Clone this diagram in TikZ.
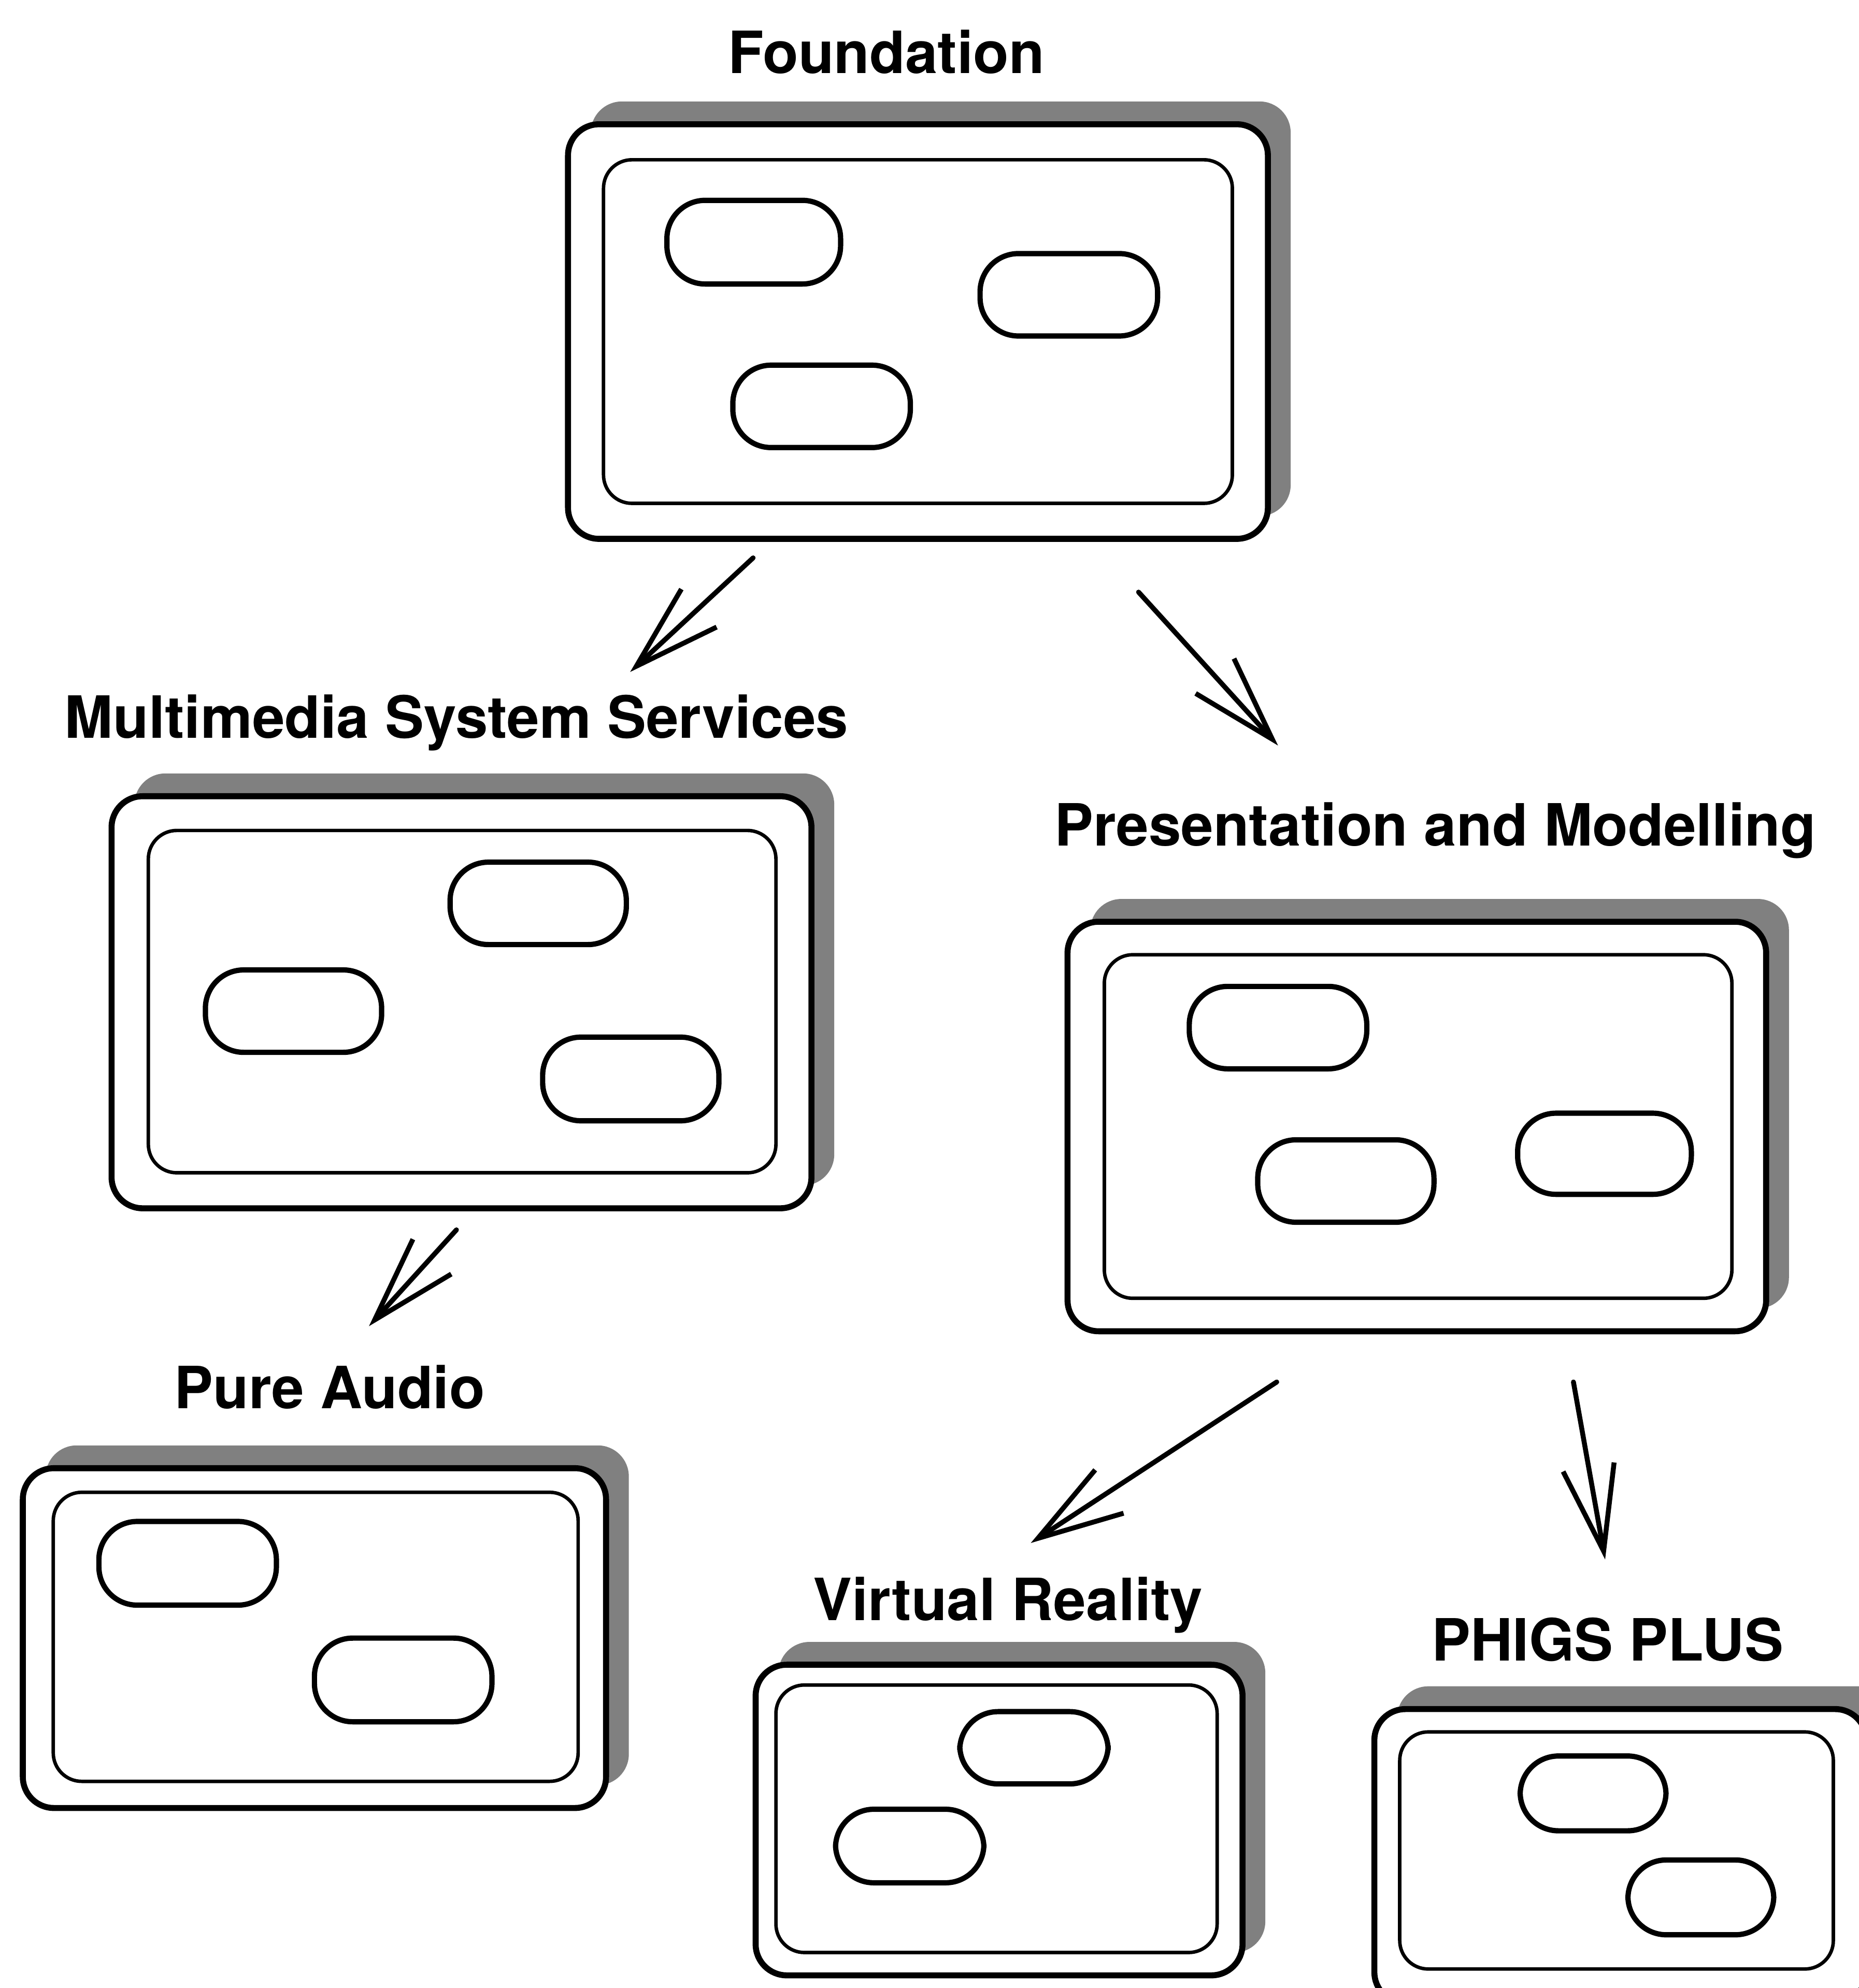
\documentclass[tikz,border=0pt]{standalone}
\usepackage{fontspec}
\setmainfont{TeX Gyre Heros}
\usetikzlibrary{fit,shadows,arrows.meta}
\tikzset{
  outerbox/.style={draw, line width=3.3pt, rounded corners=0.6cm, fill=white, inner sep=0pt, outer sep=0pt,
    drop shadow={shadow xshift=0.44cm, shadow yshift=0.44cm, fill=black!50, opacity=1}},
  innerbox/.style={draw, line width=1.9pt, rounded corners=0.55cm, inner sep=0pt, outer sep=0pt},
  pill/.style={draw, line width=2.9pt, rounded corners=0.74cm, fill=white, inner sep=0pt, outer sep=0pt},
  lbl/.style={font=\fontsize{32}{38}\selectfont\bfseries, anchor=base, inner sep=0pt},
  arr/.style={line width=2.7pt, line cap=round, -{Straight Barb[length=1.65cm, width=1.0cm, line width=2.7pt]}}
}
\begin{document}
\begin{tikzpicture}[x=0.024468cm, y=-0.024468cm]
\useasboundingbox (0,0) rectangle (1466,1568);

% Foundation
\node[lbl] (lf) at (699,58) {Foundation};
\node[outerbox, fit={(448,98) (1000,425)}] (fo) {};
\node[innerbox, fit={(476,126) (972,397)}] (fi) {};
\node[pill, fit={(526,158) (663,224)}] (fp1) {};
\node[pill, fit={(773,200) (913,265)}] (fp2) {};
\node[pill, fit={(578,288) (718,353)}] (fp3) {};

% Multimedia System Services
\node[lbl] (lm) at (360,582) {Multimedia System Services};
\node[outerbox, fit={(88,628) (640,953)}] (mo) {};
\node[innerbox, fit={(117,655) (612,925)}] (mi) {};
\node[pill, fit={(162,765) (301,830)}] (mp1) {};
\node[pill, fit={(355,680) (494,745)}] (mp2) {};
\node[pill, fit={(428,818) (567,884)}] (mp3) {};

% Presentation and Modelling
\node[lbl] (lp) at (1132,667) {Presentation and Modelling};
\node[outerbox, fit={(842,727) (1393,1050)}] (po) {};
\node[innerbox, fit={(871,753) (1366,1024)}] (pi) {};
\node[pill, fit={(938,778) (1078,843)}] (pp1) {};
\node[pill, fit={(992,899) (1131,964)}] (pp2) {};
\node[pill, fit={(1197,878) (1334,942)}] (pp3) {};

% Pure Audio
\node[lbl] (la) at (260,1111) {Pure Audio};
\node[outerbox, fit={(18,1158) (478,1426)}] (ao) {};
\node[innerbox, fit={(42,1177) (456,1405)}] (ai) {};
\node[pill, fit={(78,1200) (218,1266)}] (ap1) {};
\node[pill, fit={(248,1292) (388,1358)}] (ap2) {};

% Virtual Reality
\node[lbl] (lv) at (795,1278) {Virtual Reality};
\node[outerbox, fit={(596,1313) (980,1558)}] (vo) {};
\node[innerbox, fit={(612,1329) (960,1540)}] (vi) {};
\node[pill, fit={(757,1350) (874,1407)}] (vp1) {};
\node[pill, fit={(659,1427) (776,1485)}] (vp2) {};

% PHIGS PLUS
\node[lbl] (lh) at (1268,1310) {PHIGS PLUS};
\node[outerbox, fit={(1084,1348) (1472,1580)}] (ho) {};
\node[innerbox, fit={(1104,1366) (1446,1553)}] (hi) {};
\node[pill, fit={(1199,1385) (1314,1444)}] (hp1) {};
\node[pill, fit={(1284,1467) (1399,1526)}] (hp2) {};

% arrows
\coordinate (a1s) at (594,440);  \coordinate (a1e) at (497,530);
\coordinate (a2s) at (898,467);  \coordinate (a2e) at (1008,588);
\coordinate (a3s) at (360,970);  \coordinate (a3e) at (291,1046);
\coordinate (a4s) at (1007,1090); \coordinate (a4e) at (813,1217);
\coordinate (a5s) at (1241,1090); \coordinate (a5e) at (1266,1230);
\draw[arr] (a1s) -- (a1e);
\draw[arr] (a2s) -- (a2e);
\draw[arr] (a3s) -- (a3e);
\draw[arr] (a4s) -- (a4e);
\draw[arr] (a5s) -- (a5e);
\end{tikzpicture}
\end{document}
